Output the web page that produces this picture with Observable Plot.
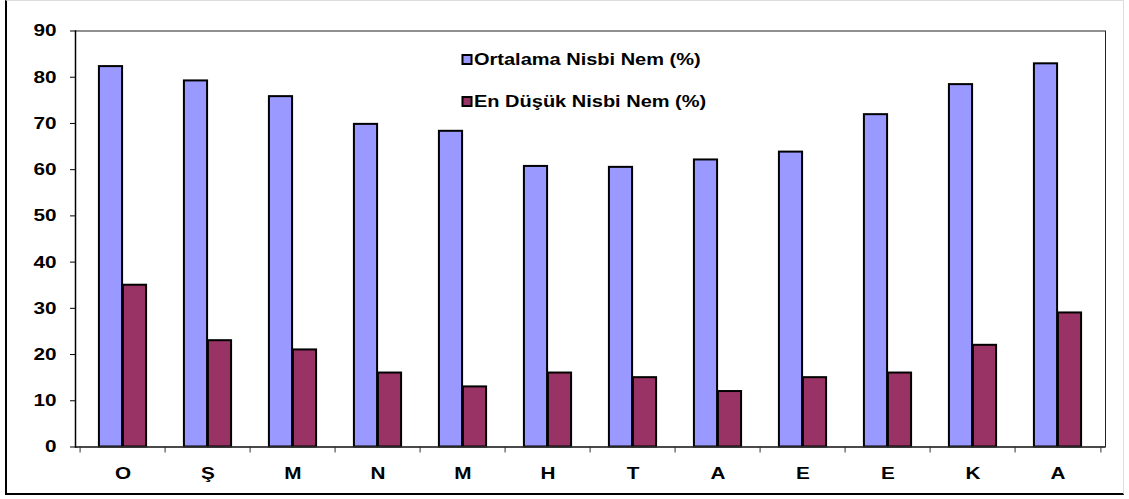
<!DOCTYPE html>
<html>
<head>
<meta charset="utf-8">
<script src="https://cdn.jsdelivr.net/npm/d3@7"></script>
<script src="https://cdn.jsdelivr.net/npm/@observablehq/plot@0.6"></script>
<style>
  html, body { margin: 0; padding: 0; background: white; }
  #wrap {
    position: absolute; left: 5px; top: 0px;
    border-left: 2px solid #000; border-bottom: 2px solid #000;
    border-top: 1px solid #ddd; border-right: 1px solid #ddd;
    width: 1116px; height: 492px;
  }
  #wrap svg text { font-weight: bold; font-family: 'Liberation Sans', Arial, sans-serif; }
</style>
</head>
<body>
<div id="wrap"></div>
<script>
const months = ["O", "Ş", "M", "N", "M", "H", "T", "A", "E", "E", "K", "A"];
const ortalama = [82.3, 79.2, 75.8, 69.8, 68.3, 60.7, 60.5, 62.1, 63.8, 71.9, 78.4, 82.9];
const enDusuk = [35, 23, 21, 16, 13, 16, 15, 12, 15, 16, 22, 29];
const seriesNames = ["Ortalama Nisbi Nem (%)", "En Düşük Nisbi Nem (%)"];
const seriesColors = ["#9999FF", "#993366"];
const yTicks = [0, 10, 20, 30, 40, 50, 60, 70, 80, 90];

const data = months.map((m, i) => ({i, m, avg: ortalama[i], min: enDusuk[i]}));
const idx = data.map(d => d.i);

const W = 1116, H = 492, mL = 68, mR = 18, mT = 29.5, mB = 46.5;
const bw = (W - mL - mR) / months.length;
const barW = 24;
const textStretch = 1.22;

const legendMarks = [];
seriesNames.forEach((name, k) => {
  const dy = 28.5 + k * 42;
  legendMarks.push(Plot.dot([name], {frameAnchor: "top-left", dx: 391.5, dy, symbol: "square", r: 5.1, fill: seriesColors[k], stroke: "#000", strokeWidth: 2}));
  legendMarks.push(Plot.text([name], {frameAnchor: "top-left", dx: 398.5, dy, text: d => d, textAnchor: "start", lineAnchor: "middle", fontSize: 16.4, fontWeight: "bold", fill: "#000"}));
});

const chart = Plot.plot({
  width: W, height: H,
  marginLeft: mL, marginRight: mR, marginTop: mT, marginBottom: mB,
  style: {fontFamily: "'Liberation Sans', Arial, sans-serif", fontWeight: "bold", fontSize: "17px", color: "#000", background: "white", overflow: "visible"},
  x: {domain: idx, padding: 0, axis: null, label: null},
  y: {domain: [0, 90], axis: null, label: null},
  marks: [
    Plot.frame({stroke: "#222", strokeWidth: 1}),
    Plot.barY(data, {x: "i", y: "avg", fill: seriesColors[0], stroke: "#000", strokeWidth: 2, insetLeft: bw / 2 - barW, insetRight: bw / 2}),
    Plot.barY(data, {x: "i", y: "min", fill: seriesColors[1], stroke: "#000", strokeWidth: 2, insetLeft: bw / 2, insetRight: bw / 2 - barW}),
    Plot.ruleY([0], {stroke: "#333", strokeWidth: 1.5}),
    Plot.frame({anchor: "left", stroke: "#000", strokeWidth: 1.5}),
    Plot.axisY(yTicks, {tickSize: 5, tickPadding: 14, fontSize: 17, label: null, stroke: "#000"}),
    Plot.axisX(idx, {tickSize: 0, tickPadding: 20, tickFormat: i => months[i], fontSize: 17, label: null}),
    Plot.axisX(idx, {tickSize: 6, tickFormat: () => "", dx: -bw / 2, label: null, stroke: "#333"}),
    Plot.axisX([idx[idx.length - 1]], {tickSize: 6, tickFormat: () => "", dx: bw / 2, label: null, stroke: "#333"}),
    ...legendMarks
  ]
});
// the original's lettering is drawn slightly wide: stretch each label around its own anchor
d3.select(chart).selectAll("text").attr("transform", function () {
  return (this.getAttribute("transform") || "") + ` scale(${textStretch},1)`;
});
document.getElementById("wrap").appendChild(chart);
</script>
</body>
</html>
